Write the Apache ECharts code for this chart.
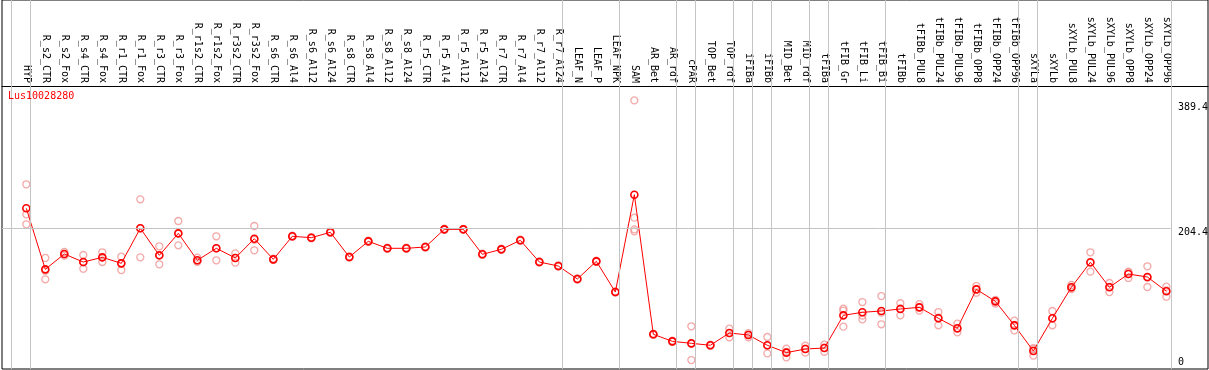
<!DOCTYPE html>
<html>
<head>
<meta charset="utf-8">
<script src="https://cdn.jsdelivr.net/npm/echarts@6/dist/echarts.min.js"></script>
<style>
html,body{margin:0;padding:0;background:#fff;}
#chart{width:1209px;height:370px;}
</style>
</head>
<body>
<div id="chart"></div>
<script>
// ---------------- data ----------------
const geneName = 'Lus10028280';
const categories = ['HYP','R_s2_CTR','R_s2_Fox','R_s4_CTR','R_s4_Fox','R_r1_CTR','R_r1_Fox','R_r3_CTR','R_r3_Fox','R_r1s2_CTR','R_r1s2_Fox','R_r3s2_CTR','R_r3s2_Fox','R_s6_CTR','R_s6_Al4','R_s6_Al12','R_s6_Al24','R_s8_CTR','R_s8_Al4','R_s8_Al12','R_s8_Al24','R_r5_CTR','R_r5_Al4','R_r5_Al12','R_r5_Al24','R_r7_CTR','R_r7_Al4','R_r7_Al12','R_r7_Al24','LEAF_N','LEAF_P','LEAF_NPK','SAM','AR_Bet','AR_rdf','cPAR','TOP_Bet','TOP_rdf','iFIBa','iFIBb','MID_Bet','MID_rdf','tFIBa','tFIB_Gr','tFIB_Li','tFIB_Bi','tFIBb','tFIBb_PUL8','tFIBb_PUL24','tFIBb_PUL96','tFIBb_OPP8','tFIBb_OPP24','tFIBb_OPP96','sXYLa','sXYLb','sXYLb_PUL8','sXYLb_PUL24','sXYLb_PUL96','sXYLb_OPP8','sXYLb_OPP24','sXYLb_OPP96'];
const means = [233,144.5,166.7,155.1,161.9,153.2,204,164.8,196.7,157.6,175,161,188.9,159,192.4,190.4,198.2,162.4,185.1,175,175,176.9,202.5,202.5,166.3,173.5,186.6,155.1,149.3,130.5,156.1,111.6,252.7,50.3,40.1,37.2,34.4,52.2,49.3,34.4,23.7,29,30.4,77.8,82.2,84.1,87,89.4,73.5,59,115.5,98.1,63.3,26.1,73.5,118.5,154.7,118.5,137.7,133.4,112.7];
const rep1 = [267.8,161,169.6,165.3,169.2,162.8,246,177.9,214.6,161.4,192.4,167.7,207.3,160,193.4,191.2,199.1,163.3,186,175.9,175.8,177.8,203.4,203.3,167.2,174.4,187.5,156,150.2,131.4,157,112.5,389.4,51.2,41,61.9,35.3,58.5,52,46.4,29.5,33.8,35.3,87.4,97.1,105.8,95.3,94,82.6,65.7,120.3,100.2,70,30.4,84.1,121.8,169.2,124.7,141,148.9,119.3];
const rep2 = [224.3,130,164.3,145.4,155.1,143.5,161.9,151.8,179.3,155.6,157.6,154.2,172.1,158.2,191.5,189.6,197.3,161.6,184.3,174.2,174.1,176.1,201.6,201.8,165.4,172.7,185.8,154.3,148.5,129.6,155.3,110.8,219.4,49.5,39.3,13,33.6,46,46,22.7,16.9,23.7,25,84.6,72,64.8,77.8,84.6,63.3,53.2,110.6,95,56.1,19.3,63.3,116,141.1,111.6,132,118.9,104.8];
const rep3 = [209.8,142.5,166.2,154.6,161.4,153.3,204.1,164.7,196.2,155.8,175,161.1,187.3,158.8,192.3,190.4,198.2,162.3,185,174.9,175.1,176.8,202.5,202.4,166.3,173.4,186.5,155,149.2,130.5,156,111.5,202.5,50.2,40,36.7,34.3,52.1,49.9,34.1,24.7,29.5,30.9,61.4,77.5,81.7,87.9,89.6,74.6,58.1,115.6,99.1,63.8,28.6,73.1,117.7,153.8,119.2,140.1,132.4,114];
const rep4 = [null,null,null,null,null,null,null,null,null,null,null,null,null,null,null,null,null,null,null,null,null,null,null,null,null,null,null,null,null,null,null,null,199.6,null,null,null,null,null,null,null,null,null,null,null,null,null,null,null,null,null,null,null,null,null,null,null,null,null,null,null,null];
// group separators are drawn just after these category indices
const separatorsAfter = [-1,0,28,31,34,35,37,38,39,41,42,45,52,53,60];
const yTickLabels = ['389.4','204.4','0'];
const refLineValue = 204.4;

// ---------------- chart ----------------
const FONT = 'DejaVu Sans Mono';
const xMin = -1.279, xMax = 62.19, sepOffset = 0.23;
const chart = echarts.init(document.getElementById('chart'), null, {renderer:'canvas'});

const repData = [rep1, rep2, rep3, rep4].flatMap(r => r.map((v, i) => v == null ? null : [i, v]).filter(Boolean));
const meanData = means.map((v, i) => [i, v]);
const catIdx = categories.map((c, i) => i);

const sepLines = separatorsAfter.map(s => ({xAxis: s + sepOffset}));
const lastSep = separatorsAfter[separatorsAfter.length - 1] + sepOffset;

chart.setOption({
  animation: false,
  backgroundColor: '#fff',
  title: {
    text: geneName, left: 8, top: 91, padding: 0,
    textStyle: {color: '#ff0000', fontFamily: FONT, fontSize: 10, fontWeight: 'normal'}
  },
  grid: {left: 2, right: 1, top: 0, bottom: 1, show: true, borderColor: '#000', borderWidth: 1, backgroundColor: 'transparent'},
  xAxis: {
    type: 'value', position: 'top', offset: -86, min: xMin, max: xMax,
    axisLine: {show: true, onZero: false, lineStyle: {color: '#000', width: 1}},
    axisTick: {show: false},
    splitLine: {show: false},
    axisLabel: {
      customValues: catIdx, rotate: 90, margin: 3,
      fontFamily: FONT, fontSize: 10, color: '#000',
      formatter: v => categories[Math.round(v)] || ''
    }
  },
  yAxis: {type: 'value', min: 0, max: 535, show: false, splitLine: {show: false}},
  series: [
    {
      type: 'scatter', data: repData, symbol: 'circle', symbolSize: 7, z: 2,
      itemStyle: {color: 'rgba(0,0,0,0)', borderColor: '#f09494', borderWidth: 1.3},
      markLine: {
        silent: true, symbol: ['none','none'], label: {show: false},
        lineStyle: {color: '#c4c4c4', type: 'solid', width: 1},
        emphasis: {disabled: true},
        data: sepLines.concat([[{coord: [xMin, refLineValue]}, {coord: [lastSep, refLineValue]}]])
      }
    },
    {
      type: 'line', data: meanData, symbol: 'circle', symbolSize: 7, z: 3,
      lineStyle: {color: '#ff0000', width: 1},
      itemStyle: {color: 'rgba(0,0,0,0)', borderColor: '#ff0000', borderWidth: 1.6}
    }
  ],
  graphic: [
    {type: 'text', x: 1178, y: 107.3, style: {text: yTickLabels[0], font: '10px ' + FONT, fill: '#000', verticalAlign: 'middle'}},
    {type: 'text', x: 1178, y: 232.3, style: {text: yTickLabels[1], font: '10px ' + FONT, fill: '#000', verticalAlign: 'middle'}},
    {type: 'text', x: 1178, y: 362, style: {text: yTickLabels[2], font: '10px ' + FONT, fill: '#000', verticalAlign: 'middle'}}
  ]
});
</script>
</body>
</html>
